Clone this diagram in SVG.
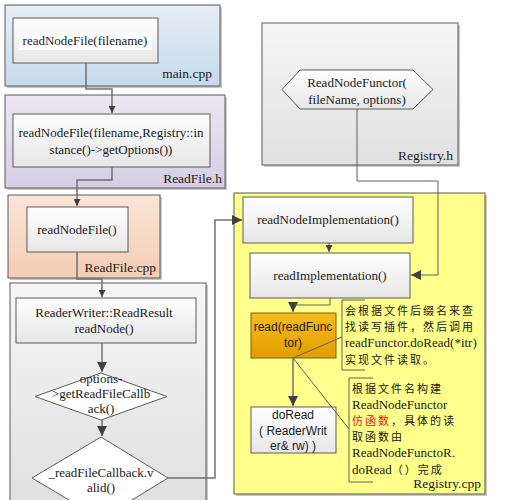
<svg xmlns="http://www.w3.org/2000/svg" width="510" height="500" viewBox="0 0 510 500">
<defs>
<linearGradient id="gNode" x1="0" y1="0" x2="0" y2="1"><stop offset="0" stop-color="#ffffff"/><stop offset="1" stop-color="#e6e6e6"/></linearGradient>
<linearGradient id="gBlue" x1="0" y1="0" x2="0" y2="1"><stop offset="0" stop-color="#e6eef6"/><stop offset="1" stop-color="#c6daec"/></linearGradient>
<linearGradient id="gPurple" x1="0" y1="0" x2="0" y2="1"><stop offset="0" stop-color="#ebe7f1"/><stop offset="1" stop-color="#d6cde4"/></linearGradient>
<linearGradient id="gPeach" x1="0" y1="0" x2="0" y2="1"><stop offset="0" stop-color="#fbe6d8"/><stop offset="1" stop-color="#f4ccb2"/></linearGradient>
<linearGradient id="gGray" x1="0" y1="0" x2="0" y2="1"><stop offset="0" stop-color="#f6f6f6"/><stop offset="1" stop-color="#e0e0e0"/></linearGradient>
<linearGradient id="gOrange" x1="0" y1="0" x2="0" y2="1"><stop offset="0" stop-color="#f7bb1a"/><stop offset="1" stop-color="#e39e00"/></linearGradient>
<marker id="arr" viewBox="0 0 10 10" refX="10" refY="5" markerWidth="7" markerHeight="7" markerUnits="userSpaceOnUse" orient="auto"><path d="M0,0 L10,5 L0,10 z" fill="#404040"/></marker>
<marker id="arrBig" viewBox="0 0 10 10" refX="10" refY="5" markerWidth="10" markerHeight="10" markerUnits="userSpaceOnUse" orient="auto"><path d="M0,0 L10,5 L0,10 z" fill="#404040"/></marker>
</defs>
<style>
.cont{stroke:#5a5a5a;stroke-width:1}
.shadow{fill:#c8c8c8}
.node{fill:url(#gNode);stroke:#5a5a5a;stroke-width:1}
.t{font-family:"Liberation Serif","Times New Roman",serif;font-size:13px;fill:#1a1a1a;text-anchor:middle}
.lbl{font-family:"Liberation Serif","Times New Roman",serif;font-size:13.5px;fill:#1a1a1a;text-anchor:end}
.s{font-family:"Liberation Sans",Arial,sans-serif;font-size:12px;fill:#1a1a1a;text-anchor:middle}
.c{font-family:"Liberation Serif","Noto Sans CJK SC",serif;font-size:13px;fill:#1a1a1a}
.cz{font-family:"Noto Sans CJK SC",sans-serif;font-size:11px;letter-spacing:2px;fill:#1a1a1a}
.ln{fill:none;stroke:#707070;stroke-width:1.5}
.thin{fill:none;stroke:#606060;stroke-width:1}
.br{fill:none;stroke:#606060;stroke-width:1}
</style>

<g id="main-cpp">
<rect class="shadow" x="7" y="7" width="215" height="81"/>
<rect class="cont" x="5" y="5" width="215" height="81" fill="url(#gBlue)"/>
<text class="lbl" x="212" y="78">main.cpp</text>
</g>
<g id="readfile-h">
<rect class="shadow" x="7" y="97" width="220" height="93"/>
<rect class="cont" x="5" y="95" width="220" height="93" fill="url(#gPurple)"/>
<text class="lbl" x="222" y="183">ReadFile.h</text>
</g>
<g id="readfile-cpp">
<rect class="shadow" x="10" y="197" width="152" height="83"/>
<rect class="cont" x="8" y="195" width="152" height="83" fill="url(#gPeach)"/>
<text class="lbl" x="156" y="272">ReadFile.cpp</text>
</g>
<g id="readnode-cont">
<rect class="shadow" x="12" y="285" width="196" height="220"/>
<rect class="cont" x="10" y="283" width="196" height="222" fill="url(#gGray)"/>
</g>
<g id="registry-h">
<rect class="shadow" x="264" y="25" width="196" height="142"/>
<rect class="cont" x="262" y="23" width="196" height="142" fill="url(#gGray)"/>
<text class="lbl" x="453" y="160">Registry.h</text>
</g>
<g id="registry-cpp">
<rect class="shadow" x="236" y="195" width="251" height="301"/>
<rect class="cont" x="234" y="193" width="251" height="301" fill="#ffff8c"/>
<text class="lbl" x="481" y="488">Registry.cpp</text>
</g>

<g id="n-main">
<rect class="node" x="13" y="18" width="145" height="45"/>
<rect x="19" y="32" width="133" height="18" fill="#ffffff"/>
<text class="t" x="85" y="45">readNodeFile(filename)</text>
</g>
<g id="n-readfile-h">
<rect class="node" x="13" y="114" width="197" height="53"/>
<text class="t" x="111" y="137">readNodeFile(filename,Registry::in</text>
<text class="t" x="111" y="154">stance()-&gt;getOptions())</text>
</g>
<g id="n-readfile-cpp">
<rect class="node" x="27" y="207" width="101" height="45"/>
<text class="t" x="77" y="234">readNodeFile()</text>
</g>
<g id="n-readnode">
<rect class="node" x="16" y="298" width="180" height="45"/>
<text class="t" x="104" y="317">ReaderWriter::ReadResult</text>
<text class="t" x="104" y="333">readNode()</text>
</g>
<g id="n-diamond1">
<path class="node" d="M101,373 L167,396.5 L101,420 L35,396.5 Z" style="fill:#ffffff"/>
<text class="t" x="101" y="383">options-</text>
<text class="t" x="101" y="398">&gt;getReadFileCallb</text>
<text class="t" x="101" y="413">ack()</text>
</g>
<g id="n-diamond2">
<path class="node" d="M101,437 L168,478 L101,519 L32,478 Z" style="fill:#ffffff"/>
<text class="t" x="101" y="477">_readFileCallback.v</text>
<text class="t" x="101" y="492">alid()</text>
</g>
<g id="n-functor">
<path class="node" d="M300,70 L413,70 L433,89.5 L413,109 L300,109 L282,89.5 Z"/>
<text class="t" x="357" y="87">ReadNodeFunctor(</text>
<text class="t" x="357" y="104">fileName, options)</text>
</g>
<g id="n-readnodeimpl">
<rect class="node" x="243" y="197" width="170" height="46"/>
<text class="t" x="328" y="224">readNodeImplementation()</text>
</g>
<g id="n-readimpl">
<rect class="node" x="250" y="253" width="160" height="45"/>
<text class="t" x="330" y="280">readImplementation()</text>
</g>
<g id="n-read">
<rect x="251" y="313" width="85" height="45" fill="url(#gOrange)" stroke="#7a6010" stroke-width="1"/>
<text class="s" x="293" y="331">read(readFunc</text>
<text class="s" x="293" y="347">tor)</text>
</g>
<g id="n-doread">
<rect class="node" x="251" y="407" width="85" height="46"/>
<text class="s" x="293" y="419">doRead</text>
<text class="s" x="293" y="435">( ReaderWrit</text>
<text class="s" x="293" y="450">er&amp; rw) )</text>
</g>

<g id="notes">
<path class="br" d="M365,300 L342,300 L342,370 L365,370"/>
<text class="cz" x="345" y="315">会根据文件后缀名来查</text>
<text class="cz" x="345" y="331">找读写插件，然后调用</text>
<text class="c" x="345" y="347">readFunctor.doRead(*itr)</text>
<text class="cz" x="345" y="364">实现文件读取。</text>
<path class="br" d="M373,378 L349,378 L349,482 L373,482"/>
<text class="cz" x="352" y="393">根据文件名构建</text>
<text class="c" x="352" y="409">ReadNodeFunctor</text>
<text class="cz" x="352" y="425"><tspan fill="#e02020">仿函数</tspan>，具体的读</text>
<text class="cz" x="352" y="441">取函数由</text>
<text class="c" x="352" y="457">ReadNodeFunctoR.</text>
<text class="cz" x="352" y="474"><tspan font-family="Liberation Serif, serif" font-size="13px" letter-spacing="0">doRead</tspan>（）完成</text>
</g>

<g id="connectors">
<path class="ln" d="M86,63 L86,89 L112,89 L112,113" marker-end="url(#arr)"/>
<path class="ln" d="M112,167 L112,180 L77,180 L77,206" marker-end="url(#arr)"/>
<path class="ln" d="M77,252 L77,279 L102,279 L102,297" marker-end="url(#arr)"/>
<path class="ln" d="M102,343 L102,372" marker-end="url(#arrBig)"/>
<path class="ln" d="M102,420 L102,436" marker-end="url(#arrBig)"/>
<path class="ln" d="M168,478 L215,478 L215,220 L242,220" marker-end="url(#arrBig)"/>
<path class="thin" d="M357,109 L357,181 L438,181 L438,275 L411,275" marker-end="url(#arrBig)"/>
<path class="thin" d="M329,243 L329,252" marker-end="url(#arr)"/>
<path class="thin" d="M330,298 L330,305 L293,305 L293,312" marker-end="url(#arrBig)"/>
<path class="ln" d="M293,358 L293,406" marker-end="url(#arrBig)"/>
<path class="thin" d="M293,358 L342,337"/>
<path class="thin" d="M293,358 L349,429"/>
</g>
</svg>
